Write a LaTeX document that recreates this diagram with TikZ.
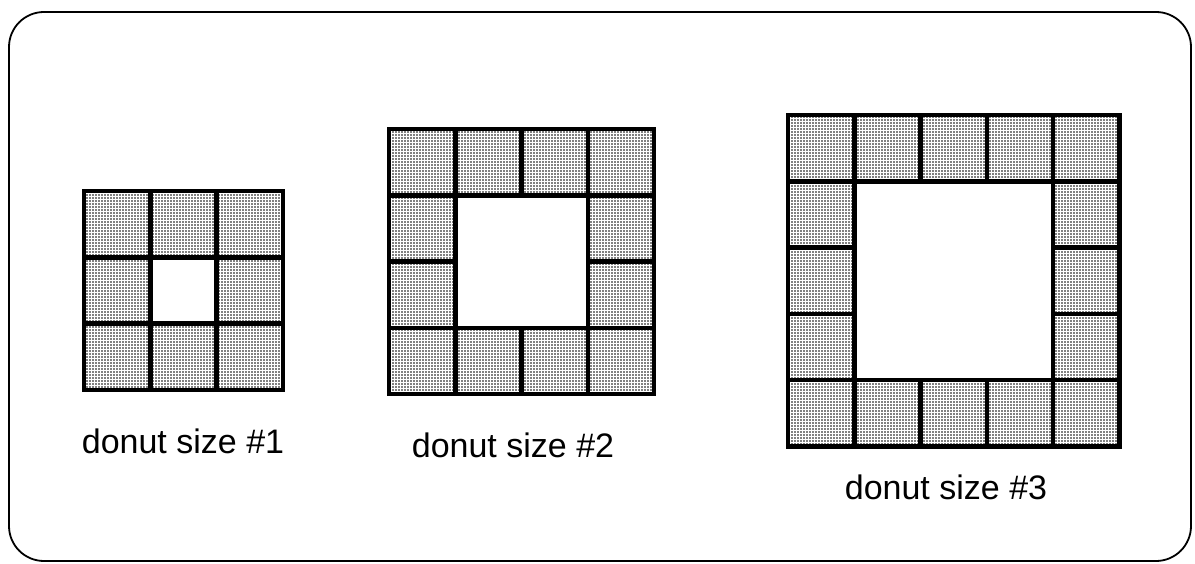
\documentclass[tikz,border=0pt]{standalone}
\usepackage{fontspec}
\setmainfont{Liberation Sans}
\usetikzlibrary{patterns}
\pgfdeclarepatternformonly{donut dots}{\pgfqpoint{-1.5pt}{-1.5pt}}{\pgfqpoint{1.5pt}{1.5pt}}{\pgfqpoint{3pt}{3pt}}{%
  \pgfpathcircle{\pgfqpoint{0pt}{0pt}}{0.95pt}\pgfusepath{fill}}
\tikzset{
  cell/.style={
    rectangle,
    draw=black,
    line width=4.5pt,
    pattern=donut dots,
    pattern color=black,
    minimum size=66.3pt,
    inner sep=0pt,
    outer sep=0pt
  },
  caption/.style={
    font=\fontsize{34}{40}\selectfont,
    anchor=base,
    inner sep=0pt
  },
  frame/.style={
    draw=black,
    line width=1.8pt,
    rounded corners=35pt
  }
}
\begin{document}
\begin{tikzpicture}[x=1pt, y=-1pt]
  \useasboundingbox (0,0) rectangle (1195,564);

  % Outer frame
  \draw[frame] (9,12) rectangle (1191,561);

  % Donut size 1 (3 x 3)
  \foreach \i in {0,...,2}
    \foreach \j in {0,...,2} {
      \pgfmathtruncatemacro\rim{or(or(\i==0,\i==2),or(\j==0,\j==2))}
      \ifnum\rim=1
        \node[cell] (a-\i-\j) at (84+66.3*\i+33.15, 191+66.3*\j+33.15) {};
      \fi
    }
  \node[caption] (label1) at (183,453) {donut size \#1};

  % Donut size 2 (4 x 4)
  \foreach \i in {0,...,3}
    \foreach \j in {0,...,3} {
      \pgfmathtruncatemacro\rim{or(or(\i==0,\i==3),or(\j==0,\j==3))}
      \ifnum\rim=1
        \node[cell] (b-\i-\j) at (389+66.3*\i+33.15, 129+66.3*\j+33.15) {};
      \fi
    }
  \node[caption] (label2) at (513,457) {donut size \#2};

  % Donut size 3 (5 x 5)
  \foreach \i in {0,...,4}
    \foreach \j in {0,...,4} {
      \pgfmathtruncatemacro\rim{or(or(\i==0,\i==4),or(\j==0,\j==4))}
      \ifnum\rim=1
        \node[cell] (c-\i-\j) at (788+66.3*\i+33.15, 115+66.3*\j+33.15) {};
      \fi
    }
  \node[caption] (label3) at (946,499) {donut size \#3};

\end{tikzpicture}
\end{document}
